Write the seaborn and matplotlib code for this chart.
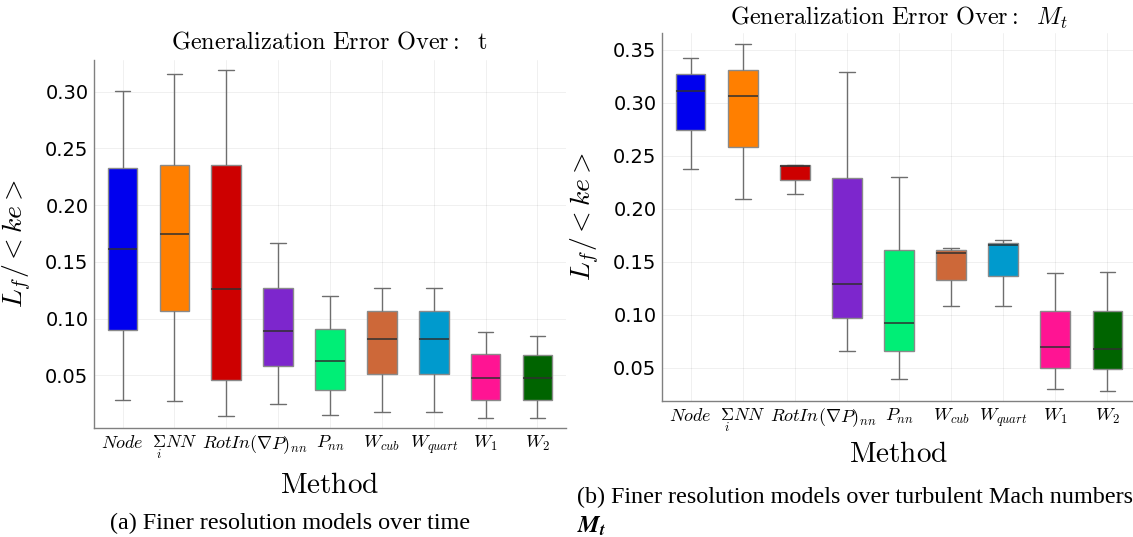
import numpy as np
import pandas as pd
import matplotlib
matplotlib.use("Agg")
import matplotlib.pyplot as plt
import seaborn as sns

# ---------------- data ----------------
methods = ["Node", "SumNN", "RotIn", "GradPnn", "Pnn", "Wcub", "Wquart", "W1", "W2"]
tick_labels = [r"$Node$", r"$\underset{i}{\Sigma}NN$", r"$RotIn$", r"$(\nabla P)_{nn}$", r"$P_{nn}$",
               r"$W_{cub}$", r"$W_{quart}$", r"$W_1$", r"$W_2$"]
colors = ["#0000EE", "#FF7F00", "#CD0000", "#7D26CD", "#00EE76",
          "#CD6839", "#009ACD", "#FF1493", "#006400"]

# (a) over time: whisker low, q1, median, q3, whisker high
t_low = [0.028, 0.027, 0.014, 0.025, 0.015, 0.018, 0.018, 0.0126, 0.0126]
t_q1 = [0.090, 0.107, 0.046, 0.058, 0.037, 0.051, 0.051, 0.0285, 0.0285]
t_med = [0.161, 0.175, 0.126, 0.089, 0.063, 0.082, 0.082, 0.048, 0.048]
t_q3 = [0.233, 0.235, 0.235, 0.127, 0.091, 0.107, 0.107, 0.0686, 0.0677]
t_high = [0.301, 0.316, 0.319, 0.167, 0.120, 0.127, 0.127, 0.088, 0.085]

# (b) over Mach number
m_low = [0.237, 0.209, 0.2135, 0.066, 0.040, 0.108, 0.108, 0.030, 0.0286]
m_q1 = [0.274, 0.258, 0.227, 0.097, 0.066, 0.1325, 0.137, 0.050, 0.0487]
m_med = [0.311, 0.306, 0.240, 0.129, 0.092, 0.158, 0.1657, 0.0697, 0.068]
m_q3 = [0.327, 0.331, 0.2408, 0.2285, 0.161, 0.1607, 0.168, 0.104, 0.104]
m_high = [0.3425, 0.3556, 0.2413, 0.329, 0.230, 0.163, 0.1707, 0.1397, 0.140]


def long_frame(low, q1, med, q3, high):
    rows = []
    for i, m in enumerate(methods):
        for v in (low[i], q1[i], med[i], q3[i], high[i]):
            rows.append({"Method": m, "value": v})
    return pd.DataFrame(rows)


df_t = long_frame(t_low, t_q1, t_med, t_q3, t_high)
df_m = long_frame(m_low, m_q1, m_med, m_q3, m_high)

# ---------------- style ----------------
sns.set_style("white")
plt.rcParams["font.family"] = ["DejaVu Sans"]
plt.rcParams["mathtext.fontset"] = "cm"
plt.rcParams["text.color"] = "black"
plt.rcParams["axes.labelcolor"] = "black"
plt.rcParams["xtick.color"] = "black"
plt.rcParams["ytick.color"] = "black"

W, H = 1133, 537
fig = plt.figure(figsize=(W / 100, H / 100), dpi=100)
ax1 = fig.add_axes([94 / W, 1 - 428 / H, (566 - 94) / W, (428 - 60) / H])
ax2 = fig.add_axes([662 / W, 1 - 401 / H, (1136 - 662) / W, (401 - 33) / H])

palette = dict(zip(methods, colors))
box_kws = dict(x="Method", y="value", hue="Method", order=methods, hue_order=methods,
               palette=palette, legend=False, width=0.57, whis=np.inf, showfliers=False,
               linecolor="#6e6e6e", linewidth=1.0, saturation=1,
               medianprops={"color": "#303030", "linewidth": 1.1},
               boxprops={"edgecolor": "#8a8a8a"},
               capwidths=0.3)

for ax, df, ylim, yticks, title, tpad, xpad in [
    (ax1, df_t, (0.0035, 0.328), [0.05, 0.10, 0.15, 0.20, 0.25, 0.30],
     r"$\mathrm{Generalization\ Error\ Over:}\ \ \mathrm{t}$", 8, 7),
    (ax2, df_m, (0.0188, 0.3656), [0.05, 0.10, 0.15, 0.20, 0.25, 0.30, 0.35],
     r"$\mathrm{Generalization\ Error\ Over:}\ \ M_t$", 6, 4),
]:
    sns.boxplot(data=df, ax=ax, **box_kws)
    ax.set_xlim(-0.55, 8.55)
    ax.set_ylim(*ylim)
    ax.set_yticks(yticks)
    ax.set_yticklabels([f"{v:.2f}" for v in yticks], fontsize=14, color="black")
    ax.set_xticks(range(len(methods)))
    ax.set_xticklabels(tick_labels, fontsize=13, color="black")
    ax.grid(True, color="#000000", alpha=0.07, linewidth=0.6)
    ax.set_axisbelow(True)
    for s in ("top", "right"):
        ax.spines[s].set_visible(False)
    for s in ("left", "bottom"):
        ax.spines[s].set_color("#808080")
        ax.spines[s].set_linewidth(1.0)
    ax.tick_params(direction="in", length=4, color="#555555", width=0.8, pad=4)
    ax.set_title(title, fontsize=17.5, pad=tpad, color="black")
    ax.set_xlabel(r"$\mathrm{Method}$", fontsize=21, labelpad=xpad, color="black")
    ax.set_ylabel(r"$L_f/<ke>$", fontsize=20, labelpad=8, color="black")

fig.text(290 / W, 1 - 523 / H, "(a) Finer resolution models over time",
         family="Liberation Serif", fontsize=17.4, ha="center", va="center")
fig.text(577 / W, 1 - 497 / H, "(b) Finer resolution models over turbulent Mach numbers",
         family="Liberation Serif", fontsize=17.4, ha="left", va="center")
fig.text(577 / W, 1 - 526 / H, r"$\mathbfit{M}_{\mathbfit{t}}$", math_fontfamily="stix",
         fontsize=17.4, ha="left", va="center")

fig.savefig("out.png", dpi=100)
